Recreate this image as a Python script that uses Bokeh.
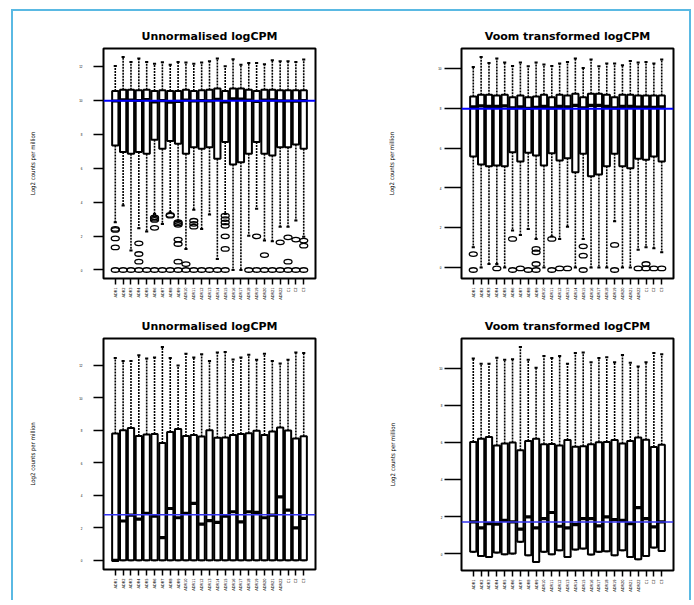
import math
from bokeh.plotting import figure
from bokeh.models import ColumnDataSource, Range1d, FixedTicker, Span
from bokeh.layouts import row, column
from bokeh.embed import file_html
from bokeh.resources import INLINE

# ---------------- data ----------------
samples = ["ADR1", "ADR2", "ADR3", "ADR4", "ADR5", "ADR6", "ADR7", "ADR8", "ADR9",
           "ADR10", "ADR11", "ADR12", "ADR13", "ADR14", "ADR15", "ADR16", "ADR17",
           "ADR18", "ADR19", "ADR20", "ADR21", "ADR22", "C1", "C2", "C3"]

# top-left: Unnormalised logCPM
tl_upper = [12.01, 12.54, 12.25, 12.45, 12.25, 12.15, 12.23, 12.09, 12.25, 12.21, 12.15, 12.21, 12.29,
            12.45, 11.99, 12.41, 12.09, 12.19, 12.19, 12.11, 12.35, 12.29, 12.29, 12.25, 12.39]
tl_q3 = [10.54, 10.62, 10.62, 10.58, 10.62, 10.54, 10.58, 10.54, 10.54, 10.62, 10.54, 10.58, 10.62,
         10.68, 10.54, 10.68, 10.68, 10.62, 10.54, 10.62, 10.62, 10.58, 10.58, 10.58, 10.58]
tl_med = [9.95, 10.02, 10.0, 9.98, 10.03, 9.9, 9.97, 9.88, 9.93, 10.01, 9.95, 9.97, 9.96,
          10.05, 9.9, 10.08, 10.06, 10.0, 9.92, 10.0, 10.02, 9.96, 9.95, 9.94, 9.97]
tl_q1 = [7.33, 6.94, 6.84, 6.94, 6.84, 7.67, 7.14, 7.59, 7.43, 6.84, 7.23, 7.14, 7.23,
         6.55, 7.53, 6.21, 6.35, 6.84, 7.53, 6.84, 6.74, 7.23, 7.23, 7.39, 7.14]
tl_lower = [2.81, 3.79, 1.14, 2.45, 2.26, 3.3, 2.71, 3.4, 2.9, 1.24, 3.54, 2.42, 3.26,
            0.65, 3.3, 0.0, 0.0, 2.02, 3.6, 1.73, 1.69, 2.55, 2.55, 2.91, 1.96]
tl_out = [[2.42, 2.36, 1.86, 1.33, 0], [0], [0], [1.57, 0.94, 0.49, 0], [0],
          [3.1, 3.02, 2.95, 2.48, 0], [0], [3.24, 3.2, 0], [2.82, 2.74, 2.66, 1.79, 1.53, 0.49, 0],
          [0.35, 0], [2.9, 2.72, 2.55, 0], [0], [0], [0], [3.2, 3.0, 2.8, 2.6, 1.98, 1.24, 0],
          [], [], [0], [1.98, 0], [0.88, 0], [0], [1.63, 0], [1.92, 0.49, 0], [1.79, 0], [1.73, 1.43, 0]]
tl_ref = 9.97

# top-right: Voom transformed logCPM
tr_upper = [10.08, 10.58, 10.28, 10.50, 10.30, 10.13, 10.30, 10.11, 10.30, 10.21, 10.13, 10.25, 10.33,
            10.50, 10.03, 10.46, 10.11, 10.25, 10.25, 10.16, 10.38, 10.30, 10.33, 10.26, 10.45]
tr_q3 = [8.60, 8.68, 8.68, 8.65, 8.68, 8.56, 8.65, 8.56, 8.60, 8.68, 8.56, 8.68, 8.65,
         8.73, 8.56, 8.73, 8.73, 8.68, 8.56, 8.68, 8.68, 8.65, 8.65, 8.65, 8.65]
tr_med = [8.08, 8.12, 8.1, 8.1, 8.12, 8.02, 8.08, 8.0, 8.05, 8.1, 8.02, 8.1, 8.08,
          8.15, 8.02, 8.15, 8.15, 8.1, 8.02, 8.1, 8.1, 8.06, 8.06, 8.05, 8.08]
tr_q1 = [5.58, 5.17, 5.09, 5.12, 5.09, 5.79, 5.32, 5.76, 5.63, 5.12, 5.74, 5.38, 5.49,
         4.79, 5.71, 4.58, 4.67, 5.09, 5.71, 5.09, 4.99, 5.46, 5.41, 5.58, 5.32]
tr_lower = [1.01, 0.0, 0.17, 0.17, 0.0, 1.85, 1.63, 1.93, 1.43, 0.0, 1.55, 1.43, 2.05,
            0.0, 1.43, 0.0, 0.0, 0.0, 2.32, 0.0, 0.0, 0.89, 1.01, 0.96, 0.76]
tr_out = [[0.67, -0.13], [], [], [-0.05], [], [1.43, -0.13], [-0.05], [-0.13],
          [0.93, 0.76, 0.17, -0.13], [], [1.43, -0.13], [-0.05], [-0.05], [], [1.06, 0.59, -0.13],
          [], [], [], [1.13, -0.13], [], [], [-0.05], [0.17, -0.05], [-0.05], [-0.05]]
tr_ref = 7.98

# bottom-left: Unnormalised logCPM
bl_upper = [12.45, 12.27, 12.27, 12.62, 12.42, 12.48, 13.13, 12.45, 12.00, 12.72, 12.48, 12.68, 12.27,
            12.80, 12.82, 12.37, 12.48, 12.66, 12.35, 12.72, 12.27, 12.11, 12.35, 12.80, 12.76]
bl_q3 = [7.81, 8.01, 8.15, 7.66, 7.74, 7.78, 7.23, 7.90, 8.09, 7.66, 7.72, 7.62, 8.01,
         7.54, 7.56, 7.72, 7.78, 7.82, 7.97, 7.72, 7.93, 8.17, 7.99, 7.50, 7.64]
bl_med = [0.0, 2.42, 2.78, 2.54, 2.89, 2.72, 1.39, 3.19, 2.62, 2.89, 3.50, 2.23, 2.44,
          2.34, 2.72, 2.99, 2.37, 2.99, 2.95, 2.62, 2.78, 3.91, 3.09, 2.00, 2.58]
bl_q1 = [-0.04, 0.0, 0.0, 0.0, 0.0, 0.0, 0.0, 0.0, 0.0, 0.0, 0.0, 0.0, 0.0,
         0.0, 0.0, 0.0, 0.0, 0.0, 0.0, 0.0, 0.0, 0.0, 0.0, 0.0, 0.0]
bl_lower = [-0.04, 0.0, 0.0, 0.0, 0.0, 0.0, 0.0, 0.0, 0.0, 0.0, 0.0, 0.0, 0.0,
            0.0, 0.0, 0.0, 0.0, 0.0, 0.0, 0.0, 0.0, 0.0, 0.0, 0.0, 0.0]
bl_out = [[] for _ in samples]
bl_ref = 2.80

# bottom-right: Voom transformed logCPM
br_upper = [10.51, 10.24, 10.24, 10.56, 10.45, 10.48, 11.13, 10.45, 10.02, 10.65, 10.54, 10.65, 10.24,
            10.81, 10.84, 10.32, 10.54, 10.59, 10.32, 10.70, 10.29, 10.09, 10.32, 10.81, 10.74]
br_q3 = [6.02, 6.20, 6.29, 5.84, 5.94, 5.99, 5.58, 6.08, 6.20, 5.90, 5.91, 5.84, 6.13,
         5.77, 5.79, 5.90, 6.01, 6.02, 6.13, 5.94, 6.08, 6.27, 6.15, 5.75, 5.88]
br_med = [1.72, 1.40, 1.63, 1.60, 1.81, 1.72, 1.33, 1.99, 1.40, 1.90, 2.23, 1.49, 1.40,
          1.58, 1.90, 1.90, 1.51, 1.99, 1.85, 1.81, 1.63, 2.49, 1.90, 1.45, 1.72]
br_q1 = [0.11, -0.11, -0.16, 0.07, -0.02, 0.02, 0.65, -0.07, -0.43, 0.11, -0.02, 0.20, -0.16,
         0.24, 0.29, -0.03, 0.11, 0.15, -0.07, 0.20, -0.16, -0.29, -0.11, 0.34, 0.16]
br_lower = list(br_q1)
br_out = [[] for _ in samples]
br_ref = 1.72

tl_ticks = [0, 2, 4, 6, 8, 10, 12]
tr_ticks = [0, 2, 4, 6, 8, 10]
bl_ticks = [0, 2, 4, 6, 8, 10, 12]
br_ticks = [0, 2, 4, 6, 8, 10]

titles = ["Unnormalised logCPM", "Voom transformed logCPM",
          "Unnormalised logCPM", "Voom transformed logCPM"]
ylab = "Log2 counts per million"

NARROW = "'Liberation Sans Narrow', 'Arial Narrow', 'DejaVu Sans Condensed', sans-serif"


def panel(title, upper, q3, med, q1, lower, outs, ref, yticks, w, h, borders, tick_out,
          lab_standoff, ref_width, ref_color):
    n = len(samples)
    xs = list(range(1, n + 1))
    ov = [v for o in outs for v in o]
    allv = upper + lower + ov
    lo, hi = min(allv), max(allv)
    pad = 0.04 * (hi - lo)
    p = figure(width=w, height=h, output_backend="svg", toolbar_location=None,
               x_range=Range1d(0.5 - 0.04 * n, n + 0.5 + 0.04 * n),
               y_range=Range1d(lo - pad, hi + pad),
               min_border_left=borders[0], min_border_right=borders[1],
               min_border_top=borders[2], min_border_bottom=borders[3])
    p.background_fill_color = "white"
    p.border_fill_color = "white"
    p.outline_line_color = "black"
    p.outline_line_width = 2
    p.outline_line_alpha = 1
    p.xgrid.visible = False
    p.ygrid.visible = False

    src = ColumnDataSource(dict(
        x=xs, upper=upper, q3=q3, med=med, q1=q1, lower=lower,
        xl=[x - 0.4 for x in xs], xr=[x + 0.4 for x in xs],
        cl=[x - 0.2 for x in xs], cr=[x + 0.2 for x in xs]))
    # whiskers
    p.segment(x0="x", y0="q3", x1="x", y1="upper", source=src, line_color="black",
              line_width=1.6, line_dash="2 1")
    p.segment(x0="x", y0="q1", x1="x", y1="lower", source=src, line_color="black",
              line_width=1.6, line_dash="2 1")
    # staples
    p.segment(x0="cl", y0="upper", x1="cr", y1="upper", source=src, line_color="black", line_width=2)
    p.segment(x0="cl", y0="lower", x1="cr", y1="lower", source=src, line_color="black", line_width=2)
    # boxes
    p.vbar(x="x", width=0.8, top="q3", bottom="q1", source=src, fill_color="white",
           line_color="black", line_width=2)
    # medians
    p.segment(x0="xl", y0="med", x1="xr", y1="med", source=src, line_color="black", line_width=3.2)
    # outliers
    ox = [xs[i] for i, o in enumerate(outs) for _ in o]
    if ox:
        osrc = ColumnDataSource(dict(x=ox, y=ov))
        p.ellipse(x="x", y="y", width=8, height=4.5, width_units="screen", height_units="screen",
                  source=osrc, fill_color=None, line_color="black", line_width=1.3)

    p.add_layout(Span(location=ref, dimension="width", line_color=ref_color, line_width=ref_width))

    # title
    p.title.text = title
    p.title.align = "center"
    p.title.text_font = "DejaVu Sans"
    p.title.text_font_style = "bold"
    p.title.text_font_size = "11px"
    p.title.text_color = "black"
    p.title.standoff = 11

    # x axis
    xa = p.xaxis[0]
    xa.ticker = FixedTicker(ticks=xs)
    xa.major_label_overrides = {x: s for x, s in zip(xs, samples)}
    xa.major_label_orientation = math.pi / 2
    xa.major_label_text_font = NARROW
    xa.major_label_text_font_size = "4px"
    xa.major_label_text_color = "black"
    xa.major_label_standoff = 3
    xa.major_tick_out = 6
    xa.major_tick_in = 0
    xa.major_tick_line_width = 1.5
    xa.major_tick_line_color = "black"
    xa.minor_tick_line_color = None
    xa.axis_line_color = None

    # y axis
    ya = p.yaxis[0]
    ya.ticker = FixedTicker(ticks=yticks)
    ya.bounds = (yticks[0], yticks[-1])
    ya.major_label_text_font_size = "3px"
    ya.major_label_text_color = "black"
    ya.major_label_standoff = lab_standoff
    ya.major_tick_out = tick_out
    ya.major_tick_in = 0
    ya.major_tick_line_width = 1.5
    ya.major_tick_line_color = "black"
    ya.minor_tick_line_color = None
    ya.axis_line_color = None
    ya.axis_label = ylab
    ya.axis_label_text_font = NARROW
    ya.axis_label_text_font_size = "6px"
    ya.axis_label_text_font_style = "normal"
    ya.axis_label_text_color = "black"
    ya.axis_label_standoff = 40
    return p


p1 = panel(titles[0], tl_upper, tl_q3, tl_med, tl_q1, tl_lower, tl_out, tl_ref, tl_ticks,
           338, 295, (90, 36, 37, 28), 10, 11, 2, "#0000ff")
p2 = panel(titles[1], tr_upper, tr_q3, tr_med, tr_q1, tr_lower, tr_out, tr_ref, tr_ticks,
           338, 295, (110, 16, 37, 28), 17, 3, 2, "#0000ff")
p3 = panel(titles[2], bl_upper, bl_q3, bl_med, bl_q1, bl_lower, bl_out, bl_ref, bl_ticks,
           338, 294, (90, 36, 32, 31), 10, 11, 1.5, "#3535f0")
p4 = panel(titles[3], br_upper, br_q3, br_med, br_q1, br_lower, br_out, br_ref, br_ticks,
           338, 294, (110, 16, 32, 30), 17, 2, 1.5, "#3535f0")

left = column(p1, p3, spacing=0)
right = column(p2, p4, spacing=0)
root = row(left, right, spacing=0, margin=(9, 0, 0, 11),
           styles={"border-left": "2px solid #5ab9e3", "border-top": "2px solid #5ab9e3",
                   "border-right": "2px solid #5ab9e3"})

open("out.html", "w").write(file_html(root, INLINE))
